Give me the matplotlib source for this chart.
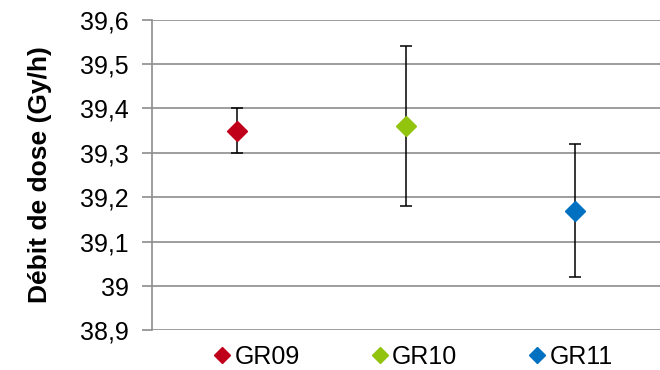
import matplotlib.pyplot as plt

plt.rcParams['font.family'] = ['Liberation Sans', 'DejaVu Sans']

groupes = ['GR09', 'GR10', 'GR11']
debit = [39.35, 39.36, 39.17]
erreur = [0.05, 0.18, 0.15]
couleurs = ['#C0001A', '#92C30D', '#0070C0']
yticks = [38.9, 39.0, 39.1, 39.2, 39.3, 39.4, 39.5, 39.6]
ytick_labels = ['38,9', '39', '39,1', '39,2', '39,3', '39,4', '39,5', '39,6']

fig = plt.figure(figsize=(6.6, 3.7), dpi=100)
ax = fig.add_axes([0.2303, 0.1068, 0.7697, 0.8402])

# un losange par groupe, avec sa barre d'erreur
for i, (g, v, e, c) in enumerate(zip(groupes, debit, erreur, couleurs)):
    ax.errorbar(i, v, yerr=e, fmt='none', ecolor='black', elinewidth=1.1,
                capsize=4.5, capthick=1.1, zorder=3)
    ax.plot(i, v, marker='D', color=c, markersize=10, linestyle='none',
            label=g, zorder=4)

ax.set_xlim(-0.5, 2.5)
ax.set_ylim(38.9, 39.6)
ax.set_yticks(yticks)
ax.set_yticklabels(ytick_labels, fontsize=18)
ax.set_xticks([])
ax.set_ylabel('Débit de dose (Gy/h)', fontsize=19, fontweight='bold', labelpad=20)

ax.grid(axis='y', color='#8c8c8c', linewidth=1.2)
ax.set_axisbelow(True)
for s in ['top', 'right', 'bottom']:
    ax.spines[s].set_visible(False)
ax.spines['left'].set_color('#8c8c8c')
ax.spines['left'].set_linewidth(1.2)
ax.tick_params(axis='y', color='#8c8c8c', width=1.2, length=7, pad=10)

fig.legend(loc='center', bbox_to_anchor=(0.628, 0.035), ncol=3,
           frameon=False, fontsize=18, handlelength=0.5, handletextpad=0.25,
           columnspacing=2.95, markerscale=0.85, borderpad=0)

fig.savefig('out.png', dpi=100)
